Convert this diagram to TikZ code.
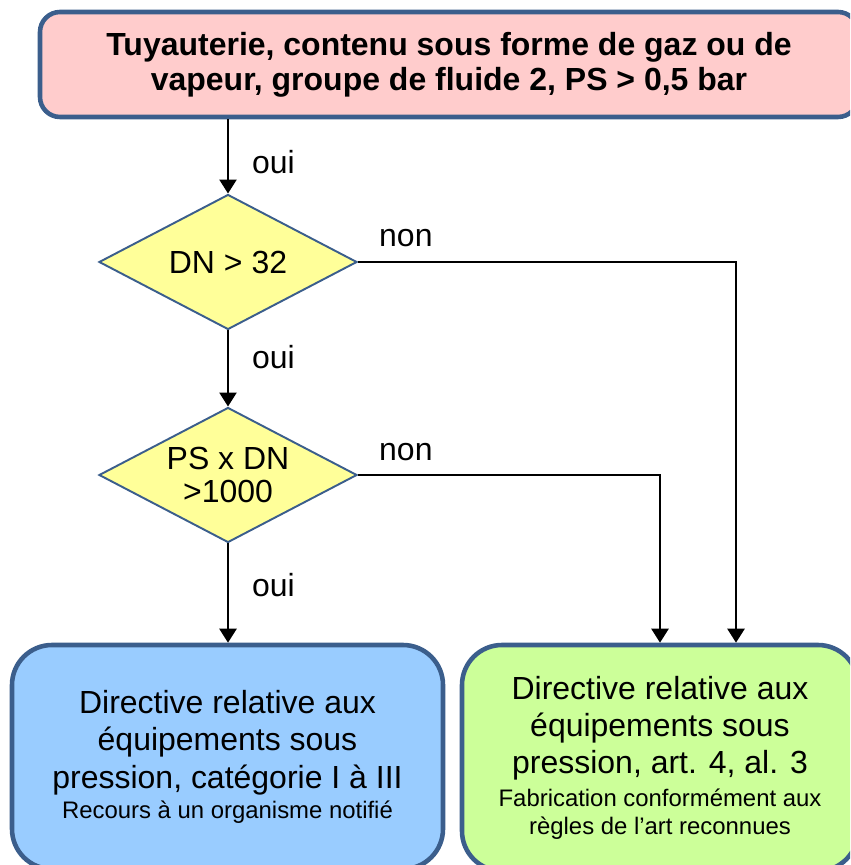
\documentclass[tikz,border=0pt]{standalone}
\usepackage{fontspec}
\setmainfont{Liberation Sans}
\usetikzlibrary{arrows.meta,shapes.geometric}

\definecolor{bordblue}{RGB}{59,94,140}
\definecolor{pinkbox}{RGB}{255,204,204}
\definecolor{yellowbox}{RGB}{255,255,153}
\definecolor{bluebox}{RGB}{153,204,255}
\definecolor{greenbox}{RGB}{204,255,153}

\begin{document}
\begin{tikzpicture}[every node/.style={font=\fontsize{18.2}{21.2}\selectfont}, >={Triangle[length=0.28cm,width=0.34cm]},
	boite/.style={draw=bordblue, line width=2.6pt, rounded corners=0.8cm, align=center, inner sep=0},
	losange/.style={diamond, draw=bordblue, fill=yellowbox, line width=1.1pt, shape aspect=1.9, minimum width=5.16cm, minimum height=2.7cm, inner sep=0, align=center},
	fleche/.style={->, line width=1.4pt}]
	\useasboundingbox (0,0) rectangle (17,-17.3);
	\clip (0,0) rectangle (17,-17.3);
	\node[boite, fill=pinkbox, rounded corners=0.4cm, minimum width=16.36cm, minimum height=2.1cm, font=\bfseries\fontsize{18.2}{19.8}\selectfont] (tuyau) at (8.98,-1.29) {Tuyauterie, contenu sous forme de gaz ou de\\ vapeur, groupe de fluide 2, PS > 0,5 bar};
	\node[losange] (dn) at (4.56,-5.24) {DN > 32};
	\node[losange] (psdn) at (4.56,-9.5) {PS x DN\\[-1.9pt] >1000};
	\node[boite, fill=bluebox, minimum width=8.62cm, minimum height=4.48cm] (cat) at (4.55,-15.14) {Directive relative aux\\ équipements sous\\ pression, catégorie I à III\\[-3.9pt] {\fontsize{13.6}{16}\selectfont Recours à un organisme notifié}};
	\node[boite, fill=greenbox, minimum width=7.92cm, minimum height=4.52cm] (art) at (13.2,-15.16) {Directive relative aux\\ équipements sous\\ pression, art. 4, al. 3\\[-2.8pt] {\fontsize{13.6}{16}\selectfont Fabrication conformément aux}\\[-5pt] {\fontsize{13.6}{16}\selectfont règles de l’art reconnues}};
	\draw[fleche] (tuyau.south -| dn.north) -- node[pos=0.58, right=0.34cm] (oui1) {oui} (dn.north);
	\draw[fleche] (dn.south) -- node[pos=0.35, right=0.34cm] (oui2) {oui} (psdn.north);
	\draw[fleche] (psdn.south) -- node[pos=0.42, right=0.34cm] (oui3) {oui} (psdn.south |- cat.north);
	\draw[fleche] (dn.east) node[anchor=south west, inner sep=0, xshift=0.4cm, yshift=0.28cm] (non1) {non} -| ([xshift=1.52cm]art.north);
	\draw[fleche] (psdn.east) node[anchor=south west, inner sep=0, xshift=0.4cm, yshift=0.26cm] (non2) {non} -| (art.north);
\end{tikzpicture}
\end{document}
